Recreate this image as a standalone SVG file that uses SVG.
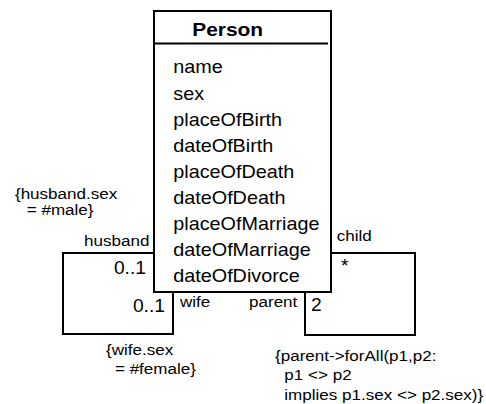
<svg xmlns="http://www.w3.org/2000/svg" width="486" height="404" viewBox="0 0 486 404">
<style>
text{font-family:"Liberation Sans",Arial,sans-serif;fill:#000}
.attr{font-size:18px}
.lbl{font-size:15.5px}
.mult{font-size:17.5px}
.title{font-size:19px;font-weight:bold}
.ln{fill:none;stroke:#000;stroke-width:2}
</style>
<rect width="486" height="404" fill="#fff"/>
<g id="connectors">
<polyline class="ln" points="154,253 63,253 63,334 173,334 173,292"/>
<polyline class="ln" points="331,253 415,253 415,335 305,335 305,292"/>
</g>
<g id="person">
<rect class="ln" x="154" y="11" width="177" height="281" fill="#fff"/>
<line class="ln" x1="154" y1="43.5" x2="328" y2="43.5"/>
<g transform="scale(1.1 1)">
<text class="title" x="174.8" y="35.7">Person</text>
<text class="attr" x="157.5" y="73.5">name</text>
<text class="attr" x="157.5" y="99.6">sex</text>
<text class="attr" x="157.5" y="125.7">placeOfBirth</text>
<text class="attr" x="157.5" y="151.8">dateOfBirth</text>
<text class="attr" x="157.5" y="177.9">placeOfDeath</text>
<text class="attr" x="157.5" y="204">dateOfDeath</text>
<text class="attr" x="157.5" y="230.1">placeOfMarriage</text>
<text class="attr" x="157.5" y="256.2">dateOfMarriage</text>
<text class="attr" x="157.5" y="282.3">dateOfDivorce</text>
</g>
</g>
<g id="marriage-labels" transform="scale(1.1 1)">
<text class="lbl" x="13.6" y="199">{husband.sex</text>
<text class="lbl" x="24.3" y="215.5">= #male}</text>
<text class="lbl" x="135.9" y="246" text-anchor="end">husband</text>
<text class="mult" x="132.7" y="274" text-anchor="end">0..1</text>
<text class="mult" x="150" y="311.7" text-anchor="end">0..1</text>
<text class="lbl" x="163.6" y="306.7">wife</text>
<text class="lbl" x="96.4" y="355.5">{wife.sex</text>
<text class="lbl" x="104.5" y="374">= #female}</text>
</g>
<g id="parent-labels" transform="scale(1.1 1)">
<text class="lbl" x="306.1" y="240.7">child</text>
<text class="mult" x="310" y="272">*</text>
<text class="lbl" x="270.3" y="307.3" text-anchor="end">parent</text>
<text class="mult" x="282.7" y="310.7">2</text>
<text class="lbl" x="250" y="361">{parent-&gt;forAll(p1,p2:</text>
<text class="lbl" x="258.5" y="380.5">p1 &lt;&gt; p2</text>
<text class="lbl" x="258.5" y="400">implies p1.sex &lt;&gt; p2.sex)}</text>
</g>
</svg>
